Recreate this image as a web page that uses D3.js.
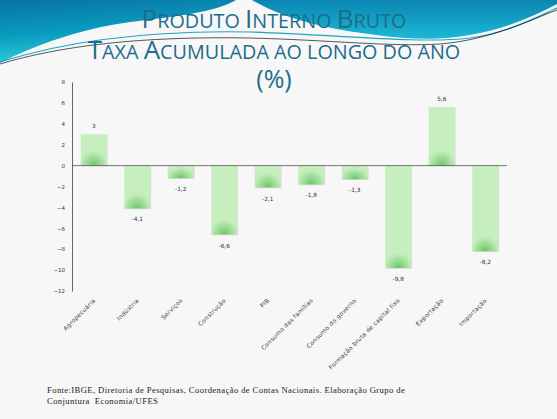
<!DOCTYPE html>
<meta charset="utf-8">
<title>PIB - taxa acumulada</title>
<script src="https://d3js.org/d3.v7.min.js"></script>
<style>
  html, body { margin: 0; padding: 0; background: #f7f7f7; }
  svg { display: block; }
</style>
<body>
</body>
<script>
var categories = ["Agropecuária", "Indústria", "Serviços", "Construção", "PIB",
  "Consumo das famílias", "Consumo do governo", "Formação bruta de capital fixo",
  "Exportação", "Importação"];
var values = [3, -4.1, -1.2, -6.6, -2.1, -1.8, -1.3, -9.8, 5.6, -8.2];
var valueLabels = ["3", "-4,1", "-1,2", "-6,6", "-2,1", "-1,8", "-1,3", "-9,8", "5,6", "-8,2"];
var yTicks = [8, 6, 4, 2, 0, -2, -4, -6, -8, -10, -12];
var titleLines = [
  [["P", "big"], ["RODUTO ", "small"], ["I", "big"], ["NTERNO ", "small"], ["B", "big"], ["RUTO", "small"]],
  [["T", "big"], ["AXA ", "small"], ["A", "big"], ["CUMULADA AO LONGO DO ANO", "small"]],
  [["(%)", "big"]]
];
var footer = ["Fonte:IBGE, Diretoria de Pesquisas, Coordenação de Contas Nacionais. Elaboração Grupo de",
  "Conjuntura  Economia/UFES"];

var W = 557, H = 419;
var svg = d3.select("body").append("svg")
  .attr("width", W)
  .attr("height", H);

var defs = svg.append("defs");

// background
svg.append("rect").attr("width", W).attr("height", H).attr("fill", "#f7f7f7");

// header waves
var g1 = defs.append("linearGradient").attr("id", "waveL")
  .attr("x1", 0).attr("y1", 0).attr("x2", 0.25).attr("y2", 1);
g1.append("stop").attr("offset", 0).attr("stop-color", "#0873a3");
g1.append("stop").attr("offset", 0.55).attr("stop-color", "#0a9cc0");
g1.append("stop").attr("offset", 1).attr("stop-color", "#2fd0da");
var g2 = defs.append("linearGradient").attr("id", "waveR")
  .attr("x1", 0).attr("y1", 0).attr("x2", 0).attr("y2", 1);
g2.append("stop").attr("offset", 0).attr("stop-color", "#0b86b2");
g2.append("stop").attr("offset", 1).attr("stop-color", "#1cb8d4");

svg.append("path")
  .attr("d", "M0,0 L236,0 C215,12 180,16 130,22 C80,29 35,45 0,63 Z")
  .attr("fill", "url(#waveL)");
svg.append("path")
  .attr("d", "M252,0 C290,22 340,32 405,38 C470,43 520,24 557,4 L557,0 Z")
  .attr("fill", "url(#waveR)");
svg.append("path")
  .attr("d", "M0,62 C70,40 150,30 250,32 C340,35 420,44 470,38 C510,32 535,18 557,8")
  .attr("fill", "none").attr("stroke", "#1aa6c6").attr("stroke-width", 1.2);
svg.append("path")
  .attr("d", "M0,64 C60,46 140,36 250,38 C330,40 390,47 440,44 C490,40 530,20 557,10")
  .attr("fill", "none").attr("stroke", "#111").attr("stroke-width", 0.7);

// title
var titleBase = [28, 59, 88];
var title = svg.append("g");
titleLines.forEach(function (parts, i) {
  var t = title.append("text")
    .attr("x", 274).attr("y", titleBase[i])
    .attr("text-anchor", "middle")
    .attr("fill", "#1d6d8a")
    .style("font-family", "'Open Sans', 'DejaVu Sans', sans-serif");
  t.selectAll("tspan").data(parts).enter().append("tspan")
    .style("font-size", function (d) { return d[1] === "big" ? (i === 2 ? "25px" : "26px") : "19.8px"; })
    .text(function (d) { return d[0]; });
});

// chart
var x = d3.scaleBand().domain(categories).range([72, 507]).paddingInner(0.4).paddingOuter(0.2);
var y = d3.scaleLinear().domain([-12, 8]).range([291, 82]);

var yAxis = svg.append("g")
  .attr("transform", "translate(72,0)")
  .call(d3.axisLeft(y).tickValues(yTicks).tickSize(0).tickPadding(7).tickFormat(d3.format("d")));
yAxis.select(".domain").attr("stroke", "#555").attr("stroke-width", 0.9);
yAxis.selectAll("text")
  .attr("fill", "#333")
  .style("font-family", "'DejaVu Sans', sans-serif")
  .style("font-size", "5.5px");

// glow gradient and clips
var glow = defs.append("radialGradient").attr("id", "glow");
glow.append("stop").attr("offset", 0).attr("stop-color", "#5fc25b").attr("stop-opacity", 0.95);
glow.append("stop").attr("offset", 0.6).attr("stop-color", "#8fd68a").attr("stop-opacity", 0.55);
glow.append("stop").attr("offset", 1).attr("stop-color", "#c6eebf").attr("stop-opacity", 0);

function barTop(d) { return y(Math.max(0, d)); }
function barH(d) { return Math.abs(y(d) - y(0)); }

defs.selectAll("clipPath").data(values).enter().append("clipPath")
  .attr("id", function (d, i) { return "clip" + i; })
  .append("rect")
  .attr("x", function (d, i) { return x(categories[i]); })
  .attr("y", barTop)
  .attr("width", x.bandwidth())
  .attr("height", barH);

var bars = svg.append("g");
// soft shadow
bars.selectAll("rect.shadow").data(values).enter().append("rect")
  .attr("class", "shadow")
  .attr("x", function (d, i) { return x(categories[i]) + 0.8; })
  .attr("y", function (d) { return barTop(d) + 0.8; })
  .attr("width", x.bandwidth())
  .attr("height", barH)
  .attr("fill", "#dcdcdc");
bars.selectAll("rect.bar").data(values).enter().append("rect")
  .attr("class", "bar")
  .attr("x", function (d, i) { return x(categories[i]); })
  .attr("y", barTop)
  .attr("width", x.bandwidth())
  .attr("height", barH)
  .attr("fill", "#c6eebf");
bars.selectAll("ellipse").data(values).enter().append("ellipse")
  .attr("clip-path", function (d, i) { return "url(#clip" + i + ")"; })
  .attr("cx", function (d, i) { return x(categories[i]) + x.bandwidth() / 2; })
  .attr("cy", function (d) { return barTop(d) + barH(d); })
  .attr("rx", x.bandwidth() * 0.62)
  .attr("ry", function (d) { return Math.min(barH(d) * 0.95, 17); })
  .attr("fill", "url(#glow)");

// zero line
svg.append("line")
  .attr("x1", 72).attr("x2", 507)
  .attr("y1", y(0)).attr("y2", y(0))
  .attr("stroke", "#666").attr("stroke-width", 0.9);

// value labels
svg.append("g").selectAll("text").data(values).enter().append("text")
  .attr("x", function (d, i) { return x(categories[i]) + x.bandwidth() / 2; })
  .attr("y", function (d) { return d >= 0 ? y(d) - 6 : y(d) + 13; })
  .attr("text-anchor", "middle")
  .attr("fill", "#333")
  .style("font-family", "'DejaVu Sans', sans-serif")
  .style("font-size", "5.8px")
  .text(function (d, i) { return valueLabels[i]; });

// category labels
svg.append("g").selectAll("text").data(categories).enter().append("text")
  .attr("transform", function (d) {
    return "translate(" + (x(d) + x.bandwidth() / 2 + 2) + ",301) rotate(-45)";
  })
  .attr("text-anchor", "end")
  .attr("fill", "#3a3a3a")
  .style("font-family", "'DejaVu Sans', sans-serif")
  .style("font-size", "6px")
  .style("letter-spacing", "0.2px")
  .text(function (d) { return d; });

// footer
svg.append("g").selectAll("text").data(footer).enter().append("text")
  .attr("x", 47)
  .attr("y", function (d, i) { return 393 + i * 11; })
  .attr("fill", "#222")
  .style("font-family", "'Liberation Serif', serif")
  .style("font-size", "8.6px")
  .style("letter-spacing", "0.4px")
  .style("white-space", "pre")
  .text(function (d) { return d; });
</script>
